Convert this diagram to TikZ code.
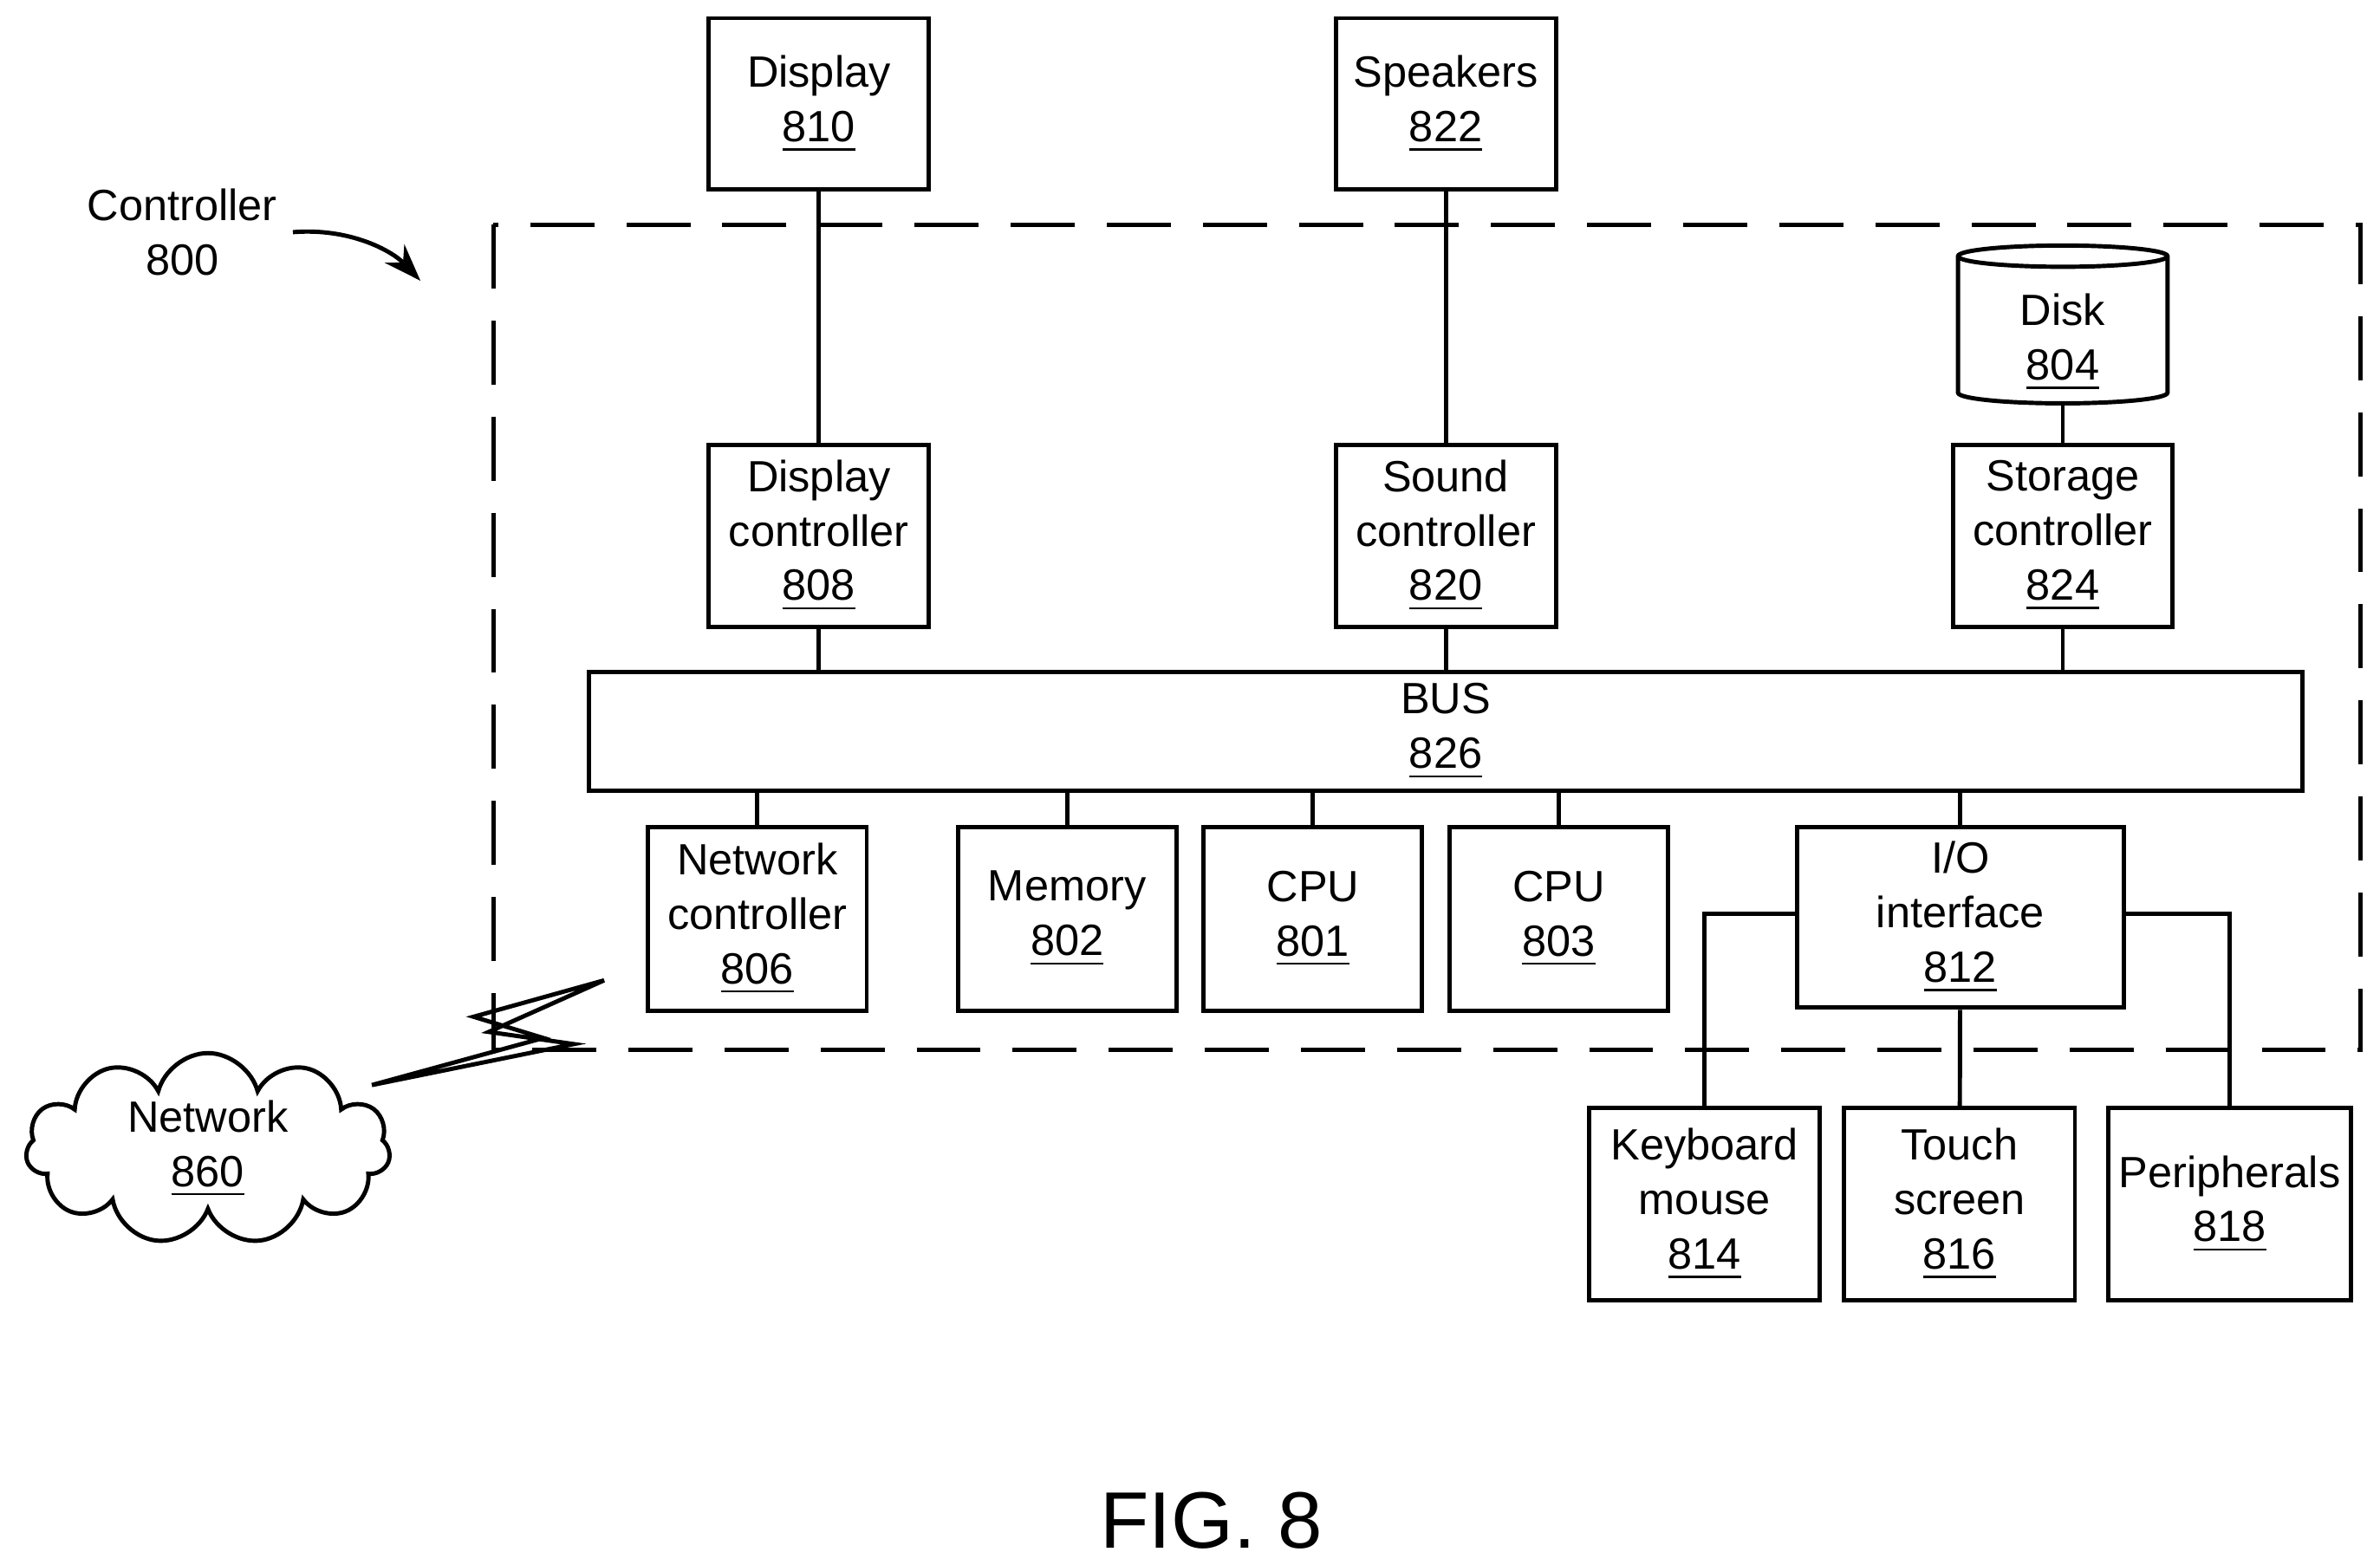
\documentclass[tikz,border=0pt]{standalone}
\usepackage{fontspec}
\setmainfont{Liberation Sans}
\usetikzlibrary{shapes.symbols,shapes.geometric,arrows.meta}
\begin{document}
\begin{tikzpicture}[x=0.01cm,y=-0.01cm,
  box/.style={draw,line width=0.8pt,align=center,font=\fontsize{8.2}{10.2}\selectfont,inner sep=0pt},
  ln/.style={line width=0.8pt}]
\useasboundingbox (0,0) rectangle (1568,1031);
\newcommand{\bx}[6]{\node[box,minimum width=#3*0.01cm-0.8pt,minimum height=#4*0.01cm-0.8pt] (#1) at (#2) {#5\\\underline{#6}};}
\node[box,minimum width=145*0.01cm,minimum height=113*0.01cm] (d810) at (539.5,68.5) {Display\\\underline{810}};
\node[box,minimum width=145*0.01cm,minimum height=113*0.01cm] (s822) at (952.5,68.5) {Speakers\\\underline{822}};
\draw[ln,dash pattern=on 12pt off 6pt] (325,148) rectangle (1555,692);
% disk
\node[cylinder,shape border rotate=90,draw,line width=0.8pt,aspect=0.25,minimum width=138*0.01cm,minimum height=104*0.01cm,inner sep=0pt,align=center,font=\fontsize{8.2}{10.2}\selectfont] (k804) at (1359,218) {\\Disk\\\underline{804}};
\node[box,minimum width=145*0.01cm,minimum height=120*0.01cm] (dc808) at (539.5,353) {Display\\controller\\\underline{808}};
\node[box,minimum width=145*0.01cm,minimum height=120*0.01cm] (sc820) at (952.5,353) {Sound\\controller\\\underline{820}};
\node[box,minimum width=144*0.01cm,minimum height=120*0.01cm] (st824) at (1359,353) {Storage\\controller\\\underline{824}};
\node[box,minimum width=1129*0.01cm,minimum height=78*0.01cm] (bus) at (952.5,482) {BUS\\\underline{826}};
\node[box,minimum width=144*0.01cm,minimum height=121*0.01cm] (n806) at (499,605.5) {Network\\controller\\\underline{806}};
\node[box,minimum width=144*0.01cm,minimum height=121*0.01cm] (m802) at (703,605.5) {Memory\\\underline{802}};
\node[box,minimum width=144*0.01cm,minimum height=121*0.01cm] (c801) at (865,605.5) {CPU\\\underline{801}};
\node[box,minimum width=144*0.01cm,minimum height=121*0.01cm] (c803) at (1027,605.5) {CPU\\\underline{803}};
\node[box,minimum width=215*0.01cm,minimum height=119*0.01cm] (io812) at (1291.5,604.5) {I/O\\interface\\\underline{812}};
\node[box,minimum width=152*0.01cm,minimum height=127*0.01cm] (k814) at (1123,793.5) {Keyboard\\mouse\\\underline{814}};
\node[box,minimum width=152*0.01cm,minimum height=127*0.01cm] (t816) at (1291,793.5) {Touch\\screen\\\underline{816}};
\node[box,minimum width=160*0.01cm,minimum height=127*0.01cm] (p818) at (1469,793.5) {Peripherals\\\underline{818}};
\node[cloud,draw,line width=0.8pt,cloud puffs=11,aspect=2,minimum width=240*0.01cm,minimum height=125*0.01cm,align=center,font=\fontsize{8.2}{10.2}\selectfont,inner sep=0pt] (net) at (137,757) {Network\\\underline{860}};
% connectors
\draw[ln] (d810) -- (dc808);
\draw[ln] (s822) -- (sc820);
\draw[ln] (k804.bottom) -- (st824);
\draw[ln] (dc808) -- (dc808|-bus.north);
\draw[ln] (sc820) -- (sc820|-bus.north);
\draw[ln] (st824) -- (st824|-bus.north);
\draw[ln] (n806) -- (n806|-bus.south);
\draw[ln] (m802) -- (m802|-bus.south);
\draw[ln] (c801) -- (c801|-bus.south);
\draw[ln] (c803) -- (c803|-bus.south);
\draw[ln] (io812) -- (io812|-bus.south);
\draw[ln] (io812.west|-1124,602) -| (k814.north);
\draw[ln] (io812.east|-1469,602) -| (p818.north);
\draw[ln] (io812) -- (t816);
% lightning
\draw[line width=0.8pt,line join=miter] (245,715) -- (378,688) -- (322,680) -- (398,646) -- (312,670) -- (358,684) -- cycle;
% label
\node[align=center,font=\fontsize{8.2}{10.2}\selectfont] (lab) at (120,153) {Controller\\800};
\coordinate (arr) at (277,185);
\draw[ln,-{Stealth[length=7pt,width=5pt]}] (193,153) .. controls (230,150) and (258,165) .. (arr);
\node[font=\fontsize{15}{18}\selectfont] (fig) at (798,1002) {FIG. 8};
\end{tikzpicture}
\end{document}
